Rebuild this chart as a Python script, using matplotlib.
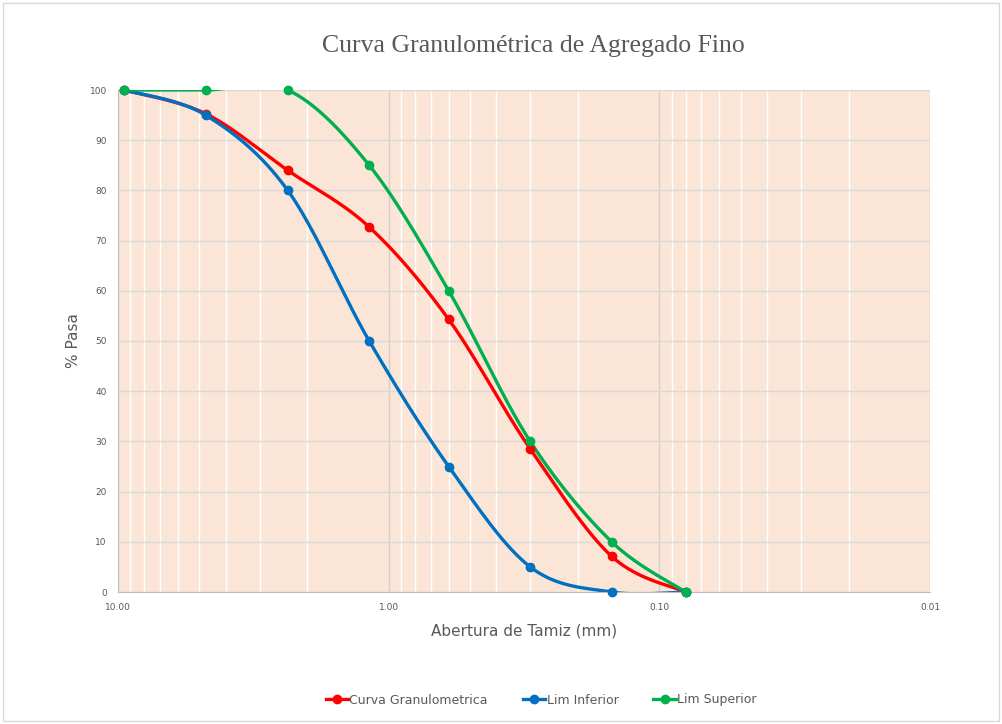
import numpy as np
import matplotlib
matplotlib.use("Agg")
import matplotlib.pyplot as plt
from matplotlib.lines import Line2D
from matplotlib.patches import Rectangle

# sieve openings (mm) and % passing
abertura = [9.5, 4.75, 2.36, 1.18, 0.6, 0.3, 0.15, 0.08]
curva = [100, 95.3, 84, 72.7, 54.3, 28.5, 7.1, 0]
lim_inf = [100, 95, 80, 50, 25, 5, 0, 0]
lim_sup = [100, 100, 100, 85, 60, 30, 10, 0]

series = [
    ("Curva Granulometrica", curva, "#FF0000"),
    ("Lim Inferior", lim_inf, "#0070C0"),
    ("Lim Superior", lim_sup, "#00B050"),
]

GRAY = "#595959"


# Excel-like smoothed line (Catmull-Rom in log-x space)
def smooth(x, y, n=40):
    pts = np.column_stack([np.log10(x), y])
    P = np.vstack([pts[0], pts, pts[-1]])
    out = []
    t = np.linspace(0, 1, n)[:, None]
    for i in range(1, len(P) - 2):
        p0, p1, p2, p3 = P[i - 1], P[i], P[i + 1], P[i + 2]
        seg = 0.5 * ((2 * p1) + (-p0 + p2) * t
                     + (2 * p0 - 5 * p1 + 4 * p2 - p3) * t ** 2
                     + (-p0 + 3 * p1 - 3 * p2 + p3) * t ** 3)
        out.append(seg)
    out = np.vstack(out)
    return 10 ** out[:, 0], out[:, 1]


fig = plt.figure(figsize=(10.02, 7.24), dpi=100)
fig.patches.append(Rectangle((0.003, 0.004), 0.994, 0.992, transform=fig.transFigure,
                             fill=False, edgecolor="#D9D9D9", linewidth=1))
ax = fig.add_axes([118 / 1002, 1 - 592 / 724, 812 / 1002, 502 / 724])
ax.set_facecolor("#FBE5D6")
ax.set_xscale("log")
ax.set_xlim(10, 0.01)
ax.set_ylim(0, 100)

# grid
ax.set_yticks(np.arange(0, 101, 10))
ax.set_xticks([10, 1, 0.1, 0.01])
ax.set_xticklabels(["10.00", "1.00", "0.10", "0.01"])
ax.grid(True, which="major", axis="y", color="#D9D9D9", linewidth=1)
ax.grid(True, which="minor", axis="x", color="white", linewidth=1)
ax.grid(True, which="major", axis="x", color="#D0D0D0", linewidth=1)
ax.set_axisbelow(True)
for s in ["top", "right"]:
    ax.spines[s].set_visible(False)
for s in ["left", "bottom"]:
    ax.spines[s].set_color("#BFBFBF")
ax.tick_params(which="both", length=0, labelsize=6.5, labelcolor=GRAY, pad=8)
ax.tick_params(axis="x", which="minor", labelbottom=False)

for name, vals, col in series:
    xs, ys = smooth(abertura, vals)
    ax.plot(xs, ys, color=col, linewidth=2.4, solid_capstyle="round")
    ax.plot(abertura, vals, "o", color=col, markersize=6, clip_on=False, zorder=5)

ax.set_xlabel("Abertura de Tamiz (mm)", fontsize=11, color=GRAY, labelpad=8)
ax.set_ylabel("% Pasa", fontsize=11, color=GRAY, labelpad=6)
fig.text(0.532, 1 - 46 / 724, "Curva Granulométrica de Agregado Fino", ha="center", va="center",
         fontsize=18.5, color=GRAY, family="Liberation Serif")

handles = [Line2D([], [], color=c, linewidth=2.4, marker="o", markersize=6) for _, _, c in series]
fig.legend(handles, [n for n, _, _ in series], loc="center", bbox_to_anchor=(0.54, 1 - 700 / 724),
           ncol=3, frameon=False, fontsize=9, labelcolor=GRAY, handlelength=1.8,
           handletextpad=0.1, columnspacing=2.8)

fig.savefig("out.png", dpi=100)
